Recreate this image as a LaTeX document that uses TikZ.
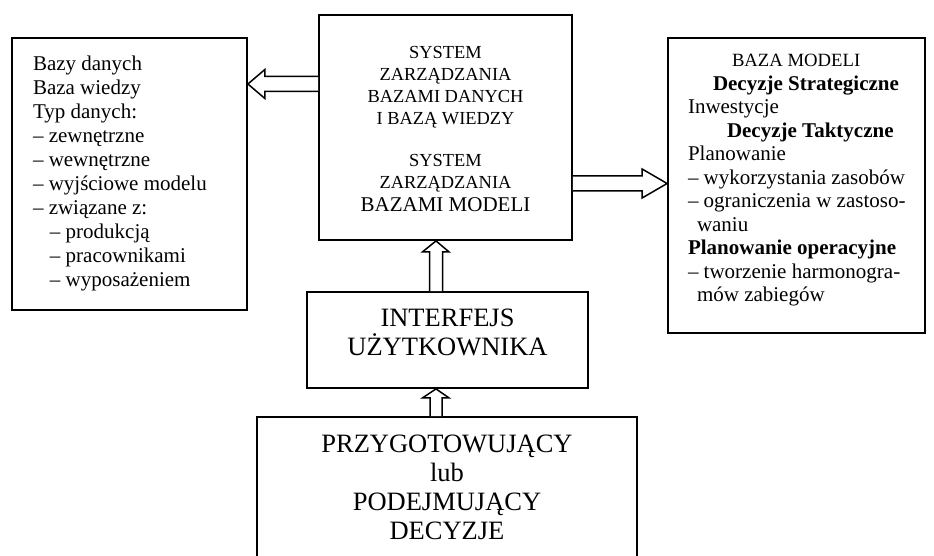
\documentclass[tikz,border=0pt]{standalone}
\usepackage{fontspec}
\setmainfont{Liberation Serif}
\usetikzlibrary{calc}
\begin{document}
\begin{tikzpicture}[x=1pt,y=-1pt,
  box/.style={draw,line width=1.8pt,rectangle,inner sep=0pt},
  txt/.style={inner sep=0pt,outer sep=0pt},
  blk/.style={draw,line width=1.5pt,fill=white,line join=miter}]
\useasboundingbox (0,0) rectangle (934,556);
\clip (0,0) rectangle (934,556);
% boxes
\node[box,minimum width=235pt,minimum height=272pt] (db) at (129.5,174) {};
\node[box,minimum width=253pt,minimum height=225pt] (sys) at (445.5,127.5) {};
\node[box,minimum width=257pt,minimum height=295pt] (bm) at (796.5,185.5) {};
\node[box,minimum width=281pt,minimum height=96pt] (ui) at (447.5,340) {};
\node[box,minimum width=380pt,minimum height=170pt] (dec) at (447,502) {};
% left text
\node[txt,anchor=north west,align=left,font=\fontsize{21pt}{24pt}\selectfont] (dbtext) at (33,55.5) {%
Bazy danych\\
Baza wiedzy\\
Typ danych:\\
– zewnętrzne\\
– wewnętrzne\\
– wyjściowe modelu\\
– związane z:\\
\hspace*{17pt}– produkcją\\
\hspace*{17pt}– pracownikami\\
\hspace*{17pt}– wyposażeniem};
% center text
\node[txt,anchor=north,align=center,font=\fontsize{18.4pt}{21.8pt}\selectfont] (systa) at (445.5,46.5) {%
SYSTEM\\ZARZĄDZANIA\\BAZAMI DANYCH\\I BAZĄ WIEDZY};
\node[txt,anchor=north,align=center,font=\fontsize{18.4pt}{21.5pt}\selectfont] (systb) at (445.5,154.8) {%
SYSTEM\\ZARZĄDZANIA};
\node[txt,anchor=north,font=\fontsize{21pt}{23pt}\selectfont] (systc) at (445.5,198) {BAZAMI MODELI};
% right text
\node[txt,anchor=north west,align=left,font=\fontsize{21pt}{23.5pt}\selectfont] (bmtext) at (688,54.5) {%
\hspace*{44pt}{\fontsize{18.7pt}{23.5pt}\selectfont BAZA MODELI}\\
\hspace*{25pt}\textbf{Decyzje Strategiczne}\\
Inwestycje\\
\hspace*{39pt}\textbf{Decyzje Taktyczne}\\
Planowanie\\
– wykorzystania zasobów\\
– ograniczenia w zastoso-\\
\hspace*{9pt}waniu\\
\textbf{Planowanie operacyjne}\\
– tworzenie harmonogra-\\
\hspace*{9pt}mów zabiegów};
% interface text
\node[txt,anchor=north,align=center,font=\fontsize{26.5pt}{29.5pt}\selectfont] (uitext) at (447.5,308.5) {%
INTERFEJS\\UŻYTKOWNIKA};
% bottom text
\node[txt,anchor=north,align=center,font=\fontsize{26.5pt}{29pt}\selectfont] (dectext) at (447,434.5) {%
PRZYGOTOWUJĄCY\\lub\\PODEJMUJĄCY\\DECYZJE};
% block arrows
\draw[blk] (sys.west|-0,76.5) -- ($(db.east|-0,76.5)+(17,0)$) -- ($(db.east|-0,69.5)+(17,0)$)
  -- (db.east|-0,84) -- ($(db.east|-0,98.5)+(17,0)$) -- ($(db.east|-0,91.5)+(17,0)$) -- (sys.west|-0,91.5);
\draw[blk] (sys.east|-0,176) -- ($(bm.west|-0,176)+(-25,0)$) -- ($(bm.west|-0,169)+(-25,0)$)
  -- (bm.west|-0,183.5) -- ($(bm.west|-0,198)+(-25,0)$) -- ($(bm.west|-0,191)+(-25,0)$) -- (sys.east|-0,191);
\draw[blk] (429.5,0|-ui.north) -- ($(429.5,0|-sys.south)+(0,11)$) -- ($(422.5,0|-sys.south)+(0,11)$)
  -- (436,0|-sys.south) -- ($(449,0|-sys.south)+(0,11)$) -- ($(442.5,0|-sys.south)+(0,11)$) -- (442.5,0|-ui.north);
\draw[blk] (430,0|-dec.north) -- ($(430,0|-ui.south)+(0,9)$) -- ($(422.5,0|-ui.south)+(0,9)$)
  -- (436,0|-ui.south) -- ($(449,0|-ui.south)+(0,9)$) -- ($(442,0|-ui.south)+(0,9)$) -- (442,0|-dec.north);
\end{tikzpicture}
\end{document}
